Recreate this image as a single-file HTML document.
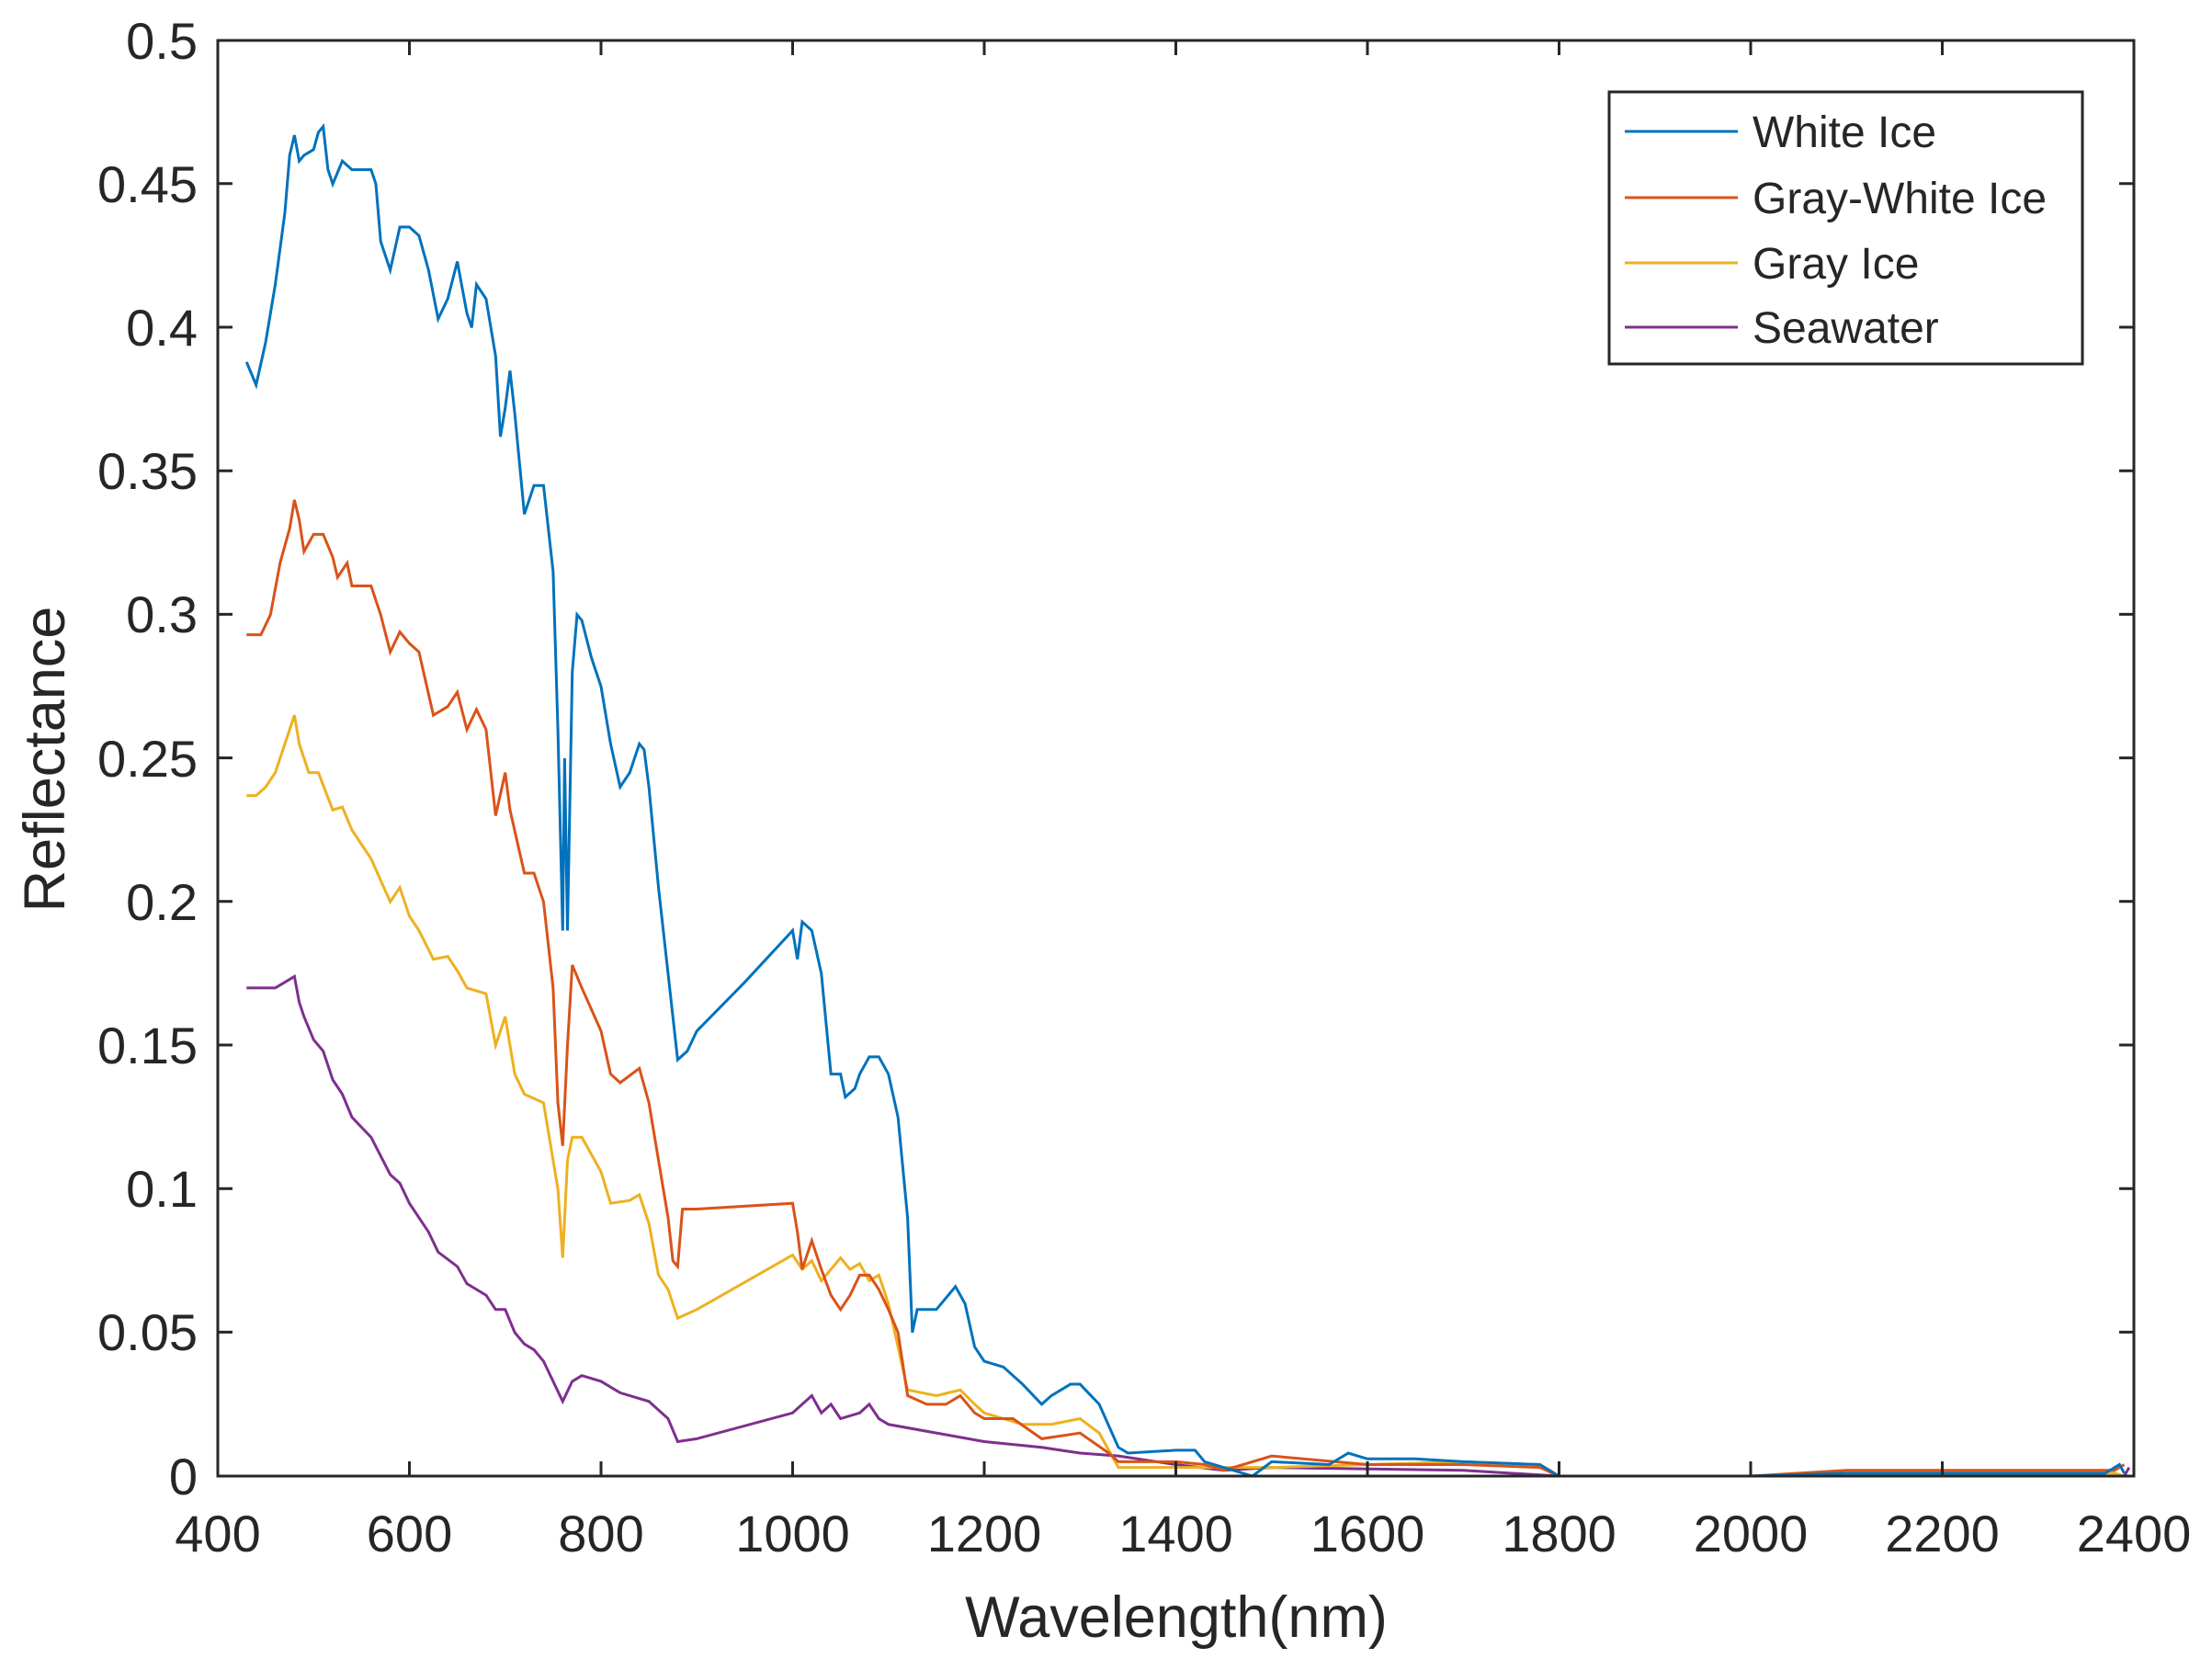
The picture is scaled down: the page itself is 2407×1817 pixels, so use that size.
<!DOCTYPE html>
<html><head><meta charset="utf-8"><style>
html,body{margin:0;padding:0;background:#fff;}
svg{display:block;}
text{font-family:"Liberation Sans",Arial,sans-serif;fill:#262626;}
</style></head><body>
<svg width="2407" height="1817" viewBox="0 0 2407 1817" xmlns="http://www.w3.org/2000/svg">
<rect width="2407" height="1817" fill="#fff"/>
<g fill="none" stroke-width="3" stroke-linejoin="miter" transform="translate(-180,1606) scale(1.0425,-3124)">
<polyline vector-effect="non-scaling-stroke" stroke="#7E2F8E" points="430,0.17 460,0.17 470,0.172 480,0.174 485,0.165 490,0.16 500,0.152 510,0.148 520,0.138 530,0.133 540,0.125 560,0.118 580,0.105 590,0.102 600,0.095 620,0.085 630,0.078 650,0.073 660,0.067 680,0.063 690,0.058 700,0.058 710,0.05 720,0.046 730,0.044 740,0.04 750,0.033 760,0.026 770,0.033 780,0.035 800,0.033 820,0.029 850,0.026 870,0.02 880,0.012 900,0.013 1000,0.022 1010,0.025 1020,0.028 1030,0.022 1040,0.025 1050,0.02 1070,0.022 1080,0.025 1090,0.02 1100,0.018 1150,0.015 1200,0.012 1260,0.01 1300,0.008 1340,0.007 1400,0.004 1450,0.002 1500,0.003 1700,0.002 1800,0 2390,0 2395,0.003"/>
<polyline vector-effect="non-scaling-stroke" stroke="#EDB120" points="430,0.237 440,0.237 450,0.24 460,0.245 470,0.255 480,0.265 485,0.255 495,0.245 505,0.245 520,0.232 530,0.233 540,0.225 560,0.215 580,0.2 590,0.205 600,0.195 610,0.19 625,0.18 640,0.181 650,0.176 660,0.17 680,0.168 690,0.15 700,0.16 710,0.14 720,0.133 740,0.13 750,0.11 755,0.1 760,0.076 765,0.11 770,0.118 780,0.118 800,0.106 810,0.095 830,0.096 840,0.098 850,0.088 860,0.07 870,0.065 880,0.055 900,0.058 1000,0.077 1010,0.072 1020,0.075 1030,0.068 1040,0.072 1050,0.076 1060,0.072 1070,0.074 1080,0.068 1090,0.07 1100,0.06 1110,0.045 1120,0.03 1150,0.028 1175,0.03 1190,0.025 1200,0.022 1240,0.018 1270,0.018 1300,0.02 1320,0.015 1340,0.003 1400,0.003 1450,0.003 1500,0.003 1600,0.004 1700,0.005 1780,0.004 1800,0 2000,0 2100,0.001 2380,0.001 2390,0"/>
<polyline vector-effect="non-scaling-stroke" stroke="#D95319" points="430,0.293 445,0.293 455,0.3 465,0.318 475,0.33 480,0.34 485,0.333 490,0.322 500,0.328 510,0.328 520,0.32 525,0.313 535,0.318 540,0.31 560,0.31 570,0.3 580,0.287 590,0.294 600,0.29 610,0.287 625,0.265 640,0.268 650,0.273 660,0.26 670,0.267 680,0.26 690,0.23 700,0.245 705,0.232 720,0.21 730,0.21 740,0.2 750,0.17 755,0.13 760,0.115 765,0.15 770,0.178 780,0.17 800,0.155 810,0.14 820,0.137 840,0.142 850,0.13 860,0.11 870,0.09 875,0.075 880,0.073 885,0.093 900,0.093 1000,0.095 1005,0.085 1010,0.072 1020,0.082 1030,0.072 1040,0.063 1050,0.058 1060,0.063 1070,0.07 1080,0.07 1090,0.065 1100,0.058 1110,0.05 1120,0.028 1140,0.025 1160,0.025 1175,0.028 1190,0.022 1200,0.02 1230,0.02 1260,0.013 1300,0.015 1330,0.008 1340,0.005 1400,0.005 1430,0.004 1450,0.002 1500,0.007 1600,0.004 1700,0.004 1780,0.003 1800,0 2000,0 2100,0.002 2380,0.002 2390,0.004"/>
<polyline vector-effect="non-scaling-stroke" stroke="#0072BD" points="430,0.388 440,0.38 450,0.395 460,0.415 470,0.44 475,0.46 480,0.467 485,0.458 490,0.46 500,0.462 505,0.468 510,0.47 515,0.455 520,0.45 530,0.458 540,0.455 560,0.455 565,0.45 570,0.43 580,0.42 590,0.435 600,0.435 610,0.432 620,0.42 630,0.403 640,0.41 650,0.423 660,0.405 665,0.4 670,0.415 680,0.41 690,0.39 695,0.362 700,0.372 705,0.385 710,0.37 720,0.335 725,0.34 730,0.345 740,0.345 745,0.33 750,0.315 755,0.26 760,0.19 762,0.25 765,0.19 770,0.28 775,0.3 780,0.298 790,0.285 800,0.275 810,0.255 820,0.24 830,0.245 840,0.255 845,0.253 850,0.24 860,0.205 870,0.175 880,0.145 890,0.148 900,0.155 950,0.172 1000,0.19 1005,0.18 1010,0.193 1020,0.19 1030,0.175 1040,0.14 1050,0.14 1055,0.132 1065,0.135 1070,0.14 1080,0.146 1090,0.146 1100,0.14 1110,0.125 1120,0.09 1125,0.05 1130,0.058 1150,0.058 1160,0.062 1170,0.066 1180,0.06 1190,0.045 1200,0.04 1220,0.038 1240,0.032 1260,0.025 1270,0.028 1290,0.032 1300,0.032 1320,0.025 1340,0.01 1350,0.008 1400,0.009 1420,0.009 1430,0.005 1450,0.003 1480,0 1500,0.005 1560,0.004 1580,0.008 1600,0.006 1650,0.006 1700,0.005 1780,0.004 1800,0 2000,0 2100,0.001 2350,0.001 2370,0.001 2385,0.004 2390,0.001"/>
</g>
<g stroke="#262626" stroke-width="3" fill="none">
<rect x="237" y="44" width="2085" height="1562"/>
<path d="M237,44v16M445.5,44v16M654,44v16M862.5,44v16M1071,44v16M1279.5,44v16M1488,44v16M1696.5,44v16M1905,44v16M2113.5,44v16
M237,1606v-16M445.5,1606v-16M654,1606v-16M862.5,1606v-16M1071,1606v-16M1279.5,1606v-16M1488,1606v-16M1696.5,1606v-16M1905,1606v-16M2113.5,1606v-16
M237,199.8h16M237,356h16M237,512.2h16M237,668.4h16M237,824.6h16M237,980.8h16M237,1137h16M237,1293.2h16M237,1449.4h16
M2322,199.8h-16M2322,356h-16M2322,512.2h-16M2322,668.4h-16M2322,824.6h-16M2322,980.8h-16M2322,1137h-16M2322,1293.2h-16M2322,1449.4h-16"/>
</g>
<g font-size="56" text-anchor="end">
<text x="215" y="64">0.5</text><text x="215" y="220">0.45</text><text x="215" y="376">0.4</text><text x="215" y="532">0.35</text><text x="215" y="688">0.3</text><text x="215" y="845">0.25</text><text x="215" y="1001">0.2</text><text x="215" y="1157">0.15</text><text x="215" y="1313">0.1</text><text x="215" y="1469">0.05</text><text x="215" y="1626">0</text>
</g>
<g font-size="56" text-anchor="middle">
<text x="237" y="1688">400</text><text x="445.5" y="1688">600</text><text x="654" y="1688">800</text><text x="862.5" y="1688">1000</text><text x="1071" y="1688">1200</text><text x="1279.5" y="1688">1400</text><text x="1488" y="1688">1600</text><text x="1696.5" y="1688">1800</text><text x="1905" y="1688">2000</text><text x="2113.5" y="1688">2200</text><text x="2322" y="1688">2400</text>
</g>
<text x="1280" y="1781" font-size="63" text-anchor="middle">Wavelength(nm)</text>
<text transform="translate(70,826) rotate(-90)" font-size="63" text-anchor="middle">Reflectance</text>
<rect x="1751" y="100" width="515" height="296" fill="#fff" stroke="#262626" stroke-width="3"/>
<g stroke-width="3">
<line x1="1768" y1="143" x2="1891" y2="143" stroke="#0072BD"/>
<line x1="1768" y1="215" x2="1891" y2="215" stroke="#D95319"/>
<line x1="1768" y1="286" x2="1891" y2="286" stroke="#EDB120"/>
<line x1="1768" y1="356" x2="1891" y2="356" stroke="#7E2F8E"/>
</g>
<g font-size="48" style="fill:#000">
<text x="1907" y="160">White Ice</text>
<text x="1907" y="232">Gray-White Ice</text>
<text x="1907" y="303">Gray Ice</text>
<text x="1907" y="373">Seawater</text>
</g>
</svg>
</body></html>
